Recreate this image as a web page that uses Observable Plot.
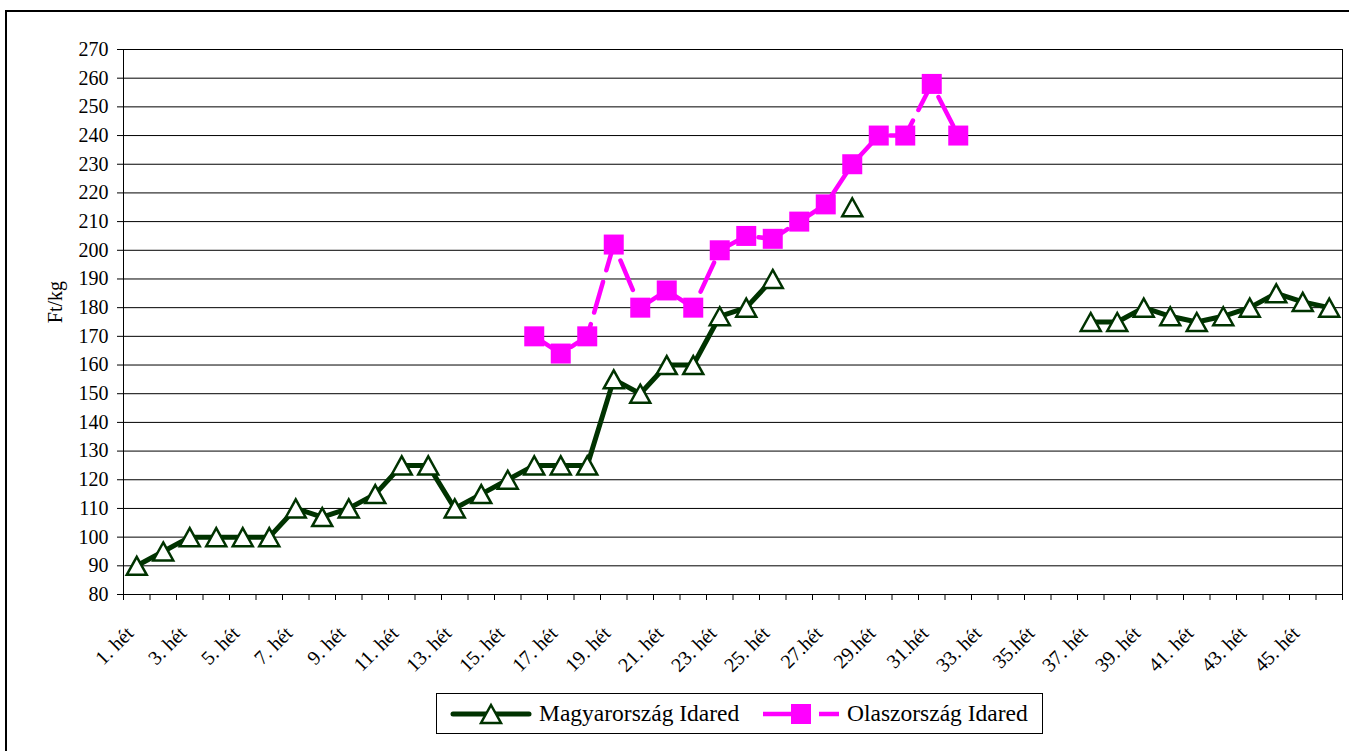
<!DOCTYPE html>
<html>
<head>
<meta charset="utf-8">
<script src="https://cdn.jsdelivr.net/npm/d3@7"></script>
<script src="https://cdn.jsdelivr.net/npm/@observablehq/plot@0.6"></script>
<style>
  html, body { margin: 0; padding: 0; background: #fff; }
  body { width: 1349px; height: 751px; overflow: hidden; position: relative; font-family: "Liberation Serif", "Times New Roman", serif; }
  #chart { position: absolute; left: 0; top: 0; }
  #outer { position: absolute; left: 5px; top: 10px; width: 1400px; height: 800px; border: 2px solid #000; box-sizing: border-box; pointer-events: none; }
  #legend { position: absolute; left: 436px; top: 693px; width: 607px; height: 41px; border: 1px solid #000; box-sizing: border-box; background: #fff; }
  #legend svg { position: absolute; left: 0; top: 0; }
  .lgtext { position: absolute; top: 5px; font-size: 23.5px; line-height: 28px; color: #000; white-space: nowrap; }
</style>
</head>
<body>
<div id="chart"></div>
<div id="legend"></div>
<div id="outer"></div>
<script>
// ---- data ----
const weekLabels = [
  "1. hét","2. hét","3. hét","4. hét","5. hét","6. hét","7. hét","8. hét","9. hét","10. hét",
  "11. hét","12. hét","13. hét","14. hét","15. hét","16. hét","17. hét","18. hét","19. hét","20. hét",
  "21. hét","22. hét","23. hét","24. hét","25. hét","26.hét","27.hét","28.hét","29.hét","30.hét",
  "31.hét","32.hét","33. hét","34.hét","35.hét","36. hét","37. hét","38. hét","39. hét","40. hét",
  "41. hét","42. hét","43. hét","44. hét","45. hét","46. hét"
];
const hungaryIdared = [
  90, 95, 100, 100, 100, 100, 110, 107, 110, 115,
  125, 125, 110, 115, 120, 125, 125, 125, 155, 150,
  160, 160, 177, 180, 190, null, null, 215, null, null,
  null, null, null, null, null, null, 175, 175, 180, 177,
  175, 177, 180, 185, 182, 180
];
const italyIdared = [
  null, null, null, null, null, null, null, null, null, null,
  null, null, null, null, null, 170, 164, 170, 202, 180,
  186, 180, 200, 205, 204, 210, 216, 230, 240, 240,
  258, 240, null, null, null, null, null, null, null, null,
  null, null, null, null, null, null
];
const yTicks = [80, 90, 100, 110, 120, 130, 140, 150, 160, 170, 180, 190, 200, 210, 220, 230, 240, 250, 260, 270];
const seriesNames = ["Magyarország Idared", "Olaszország Idared"];
const yTitle = "Ft/kg";

// ---- styles ----
const GREEN = "#003300";
const MAGENTA = "#FF00FF";

// derived tables
const rowsHU = weekLabels.map((label, i) => ({week: i + 1, label, value: hungaryIdared[i]}));
const rowsIT = weekLabels.map((label, i) => ({week: i + 1, label, value: italyIdared[i]}));
const labelRows = rowsHU.filter((d, i) => i % 2 === 0);
const boundaries = rowsHU.map(d => d.week - 0.5).concat([rowsHU.length + 0.5]);

// custom marker symbols (bbox-centred, like Excel markers)
const triangleSym = {
  draw(ctx, size) {
    const r = Math.sqrt(size / Math.PI);
    ctx.moveTo(0, -0.9 * r);
    ctx.lineTo(r, 0.9 * r);
    ctx.lineTo(-r, 0.9 * r);
    ctx.closePath();
  }
};
const squareSym = {
  draw(ctx, size) {
    const r = Math.sqrt(size / Math.PI);
    ctx.rect(-r, -r, 2 * r, 2 * r);
  }
};

const chart = Plot.plot({
  width: 1349,
  height: 690,
  marginLeft: 123,
  marginRight: 7,
  marginTop: 49,
  marginBottom: 96,
  x: {type: "linear", domain: [0.5, weekLabels.length + 0.5], axis: null},
  y: {type: "linear", domain: [80, 270], axis: null},
  style: {fontFamily: "'Liberation Serif', 'Times New Roman', serif", fontSize: "20px", color: "#000", background: "transparent", overflow: "visible"},
  marks: [
    Plot.gridY(yTicks, {stroke: "#000", strokeOpacity: 1, strokeWidth: 1}),
    Plot.axisY(yTicks, {tickSize: 6, tickPadding: 9, label: null, fontSize: 20, stroke: "#000"}),
    Plot.axisX(boundaries, {tickSize: 6, tickFormat: () => "", label: null, stroke: "#000"}),
    Plot.frame({stroke: "#000", strokeWidth: 1}),
    Plot.text(labelRows, {x: "week", text: "label", frameAnchor: "bottom", rotate: -45, textAnchor: "end", dx: -2, dy: 40, fontSize: 20}),
    Plot.text([yTitle], {frameAnchor: "left", rotate: -90, textAnchor: "middle", dx: -68, dy: -20, fontSize: 20}),
    Plot.line(rowsHU, {x: "week", y: "value", stroke: GREEN, strokeWidth: 5, strokeLinejoin: "round"}),
    Plot.dot(rowsHU, {x: "week", y: "value", symbol: triangleSym, r: 10, fill: "#fff", stroke: GREEN, strokeWidth: 2.5}),
    Plot.line(rowsIT, {x: "week", y: "value", stroke: MAGENTA, strokeWidth: 4.5, strokeDasharray: "32 12"}),
    Plot.dot(rowsIT, {x: "week", y: "value", symbol: squareSym, r: 10, fill: MAGENTA, stroke: "none"})
  ]
});
document.getElementById("chart").appendChild(chart);

// ---- legend (HTML below plot area) ----
const lg = document.getElementById("legend");
lg.innerHTML = `
<svg width="607" height="41">
  <line x1="16" x2="92" y1="20" y2="20" stroke="${GREEN}" stroke-width="5" stroke-linecap="round"/>
  <path d="M54,11 L64,29 L44,29 Z" fill="#fff" stroke="${GREEN}" stroke-width="2.5"/>
  <line x1="326" x2="402" y1="20" y2="20" stroke="${MAGENTA}" stroke-width="4.5" stroke-dasharray="40 16"/>
  <rect x="354" y="10" width="20" height="20" fill="${MAGENTA}"/>
</svg>
<div class="lgtext" style="left:102px">${seriesNames[0]}</div>
<div class="lgtext" style="left:410px">${seriesNames[1]}</div>`;
</script>
</body>
</html>
